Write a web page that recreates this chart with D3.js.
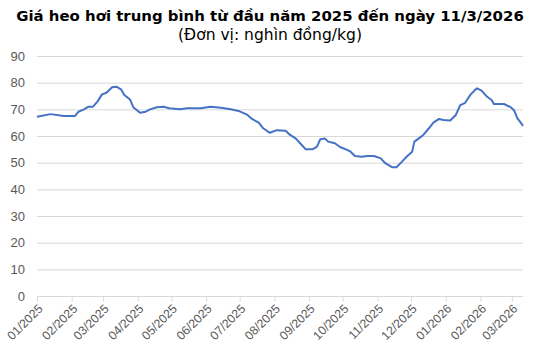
<!DOCTYPE html>
<html><head><meta charset="utf-8">
<script src="https://cdn.jsdelivr.net/npm/d3@7"></script>
<style>body{margin:0;background:#fff}svg{display:block}</style>
</head><body>
<script>
const dates = ["2025-01-01","2025-01-13","2025-01-25","2025-02-04","2025-02-07","2025-02-12","2025-02-16","2025-02-20","2025-02-24","2025-02-28",
"2025-03-04","2025-03-09","2025-03-13","2025-03-17","2025-03-20","2025-03-25","2025-03-28","2025-04-03","2025-04-08","2025-04-12",
"2025-04-18","2025-04-24","2025-04-29","2025-05-09","2025-05-15","2025-05-27","2025-06-05","2025-06-14","2025-06-23","2025-06-30",
"2025-07-08","2025-07-12","2025-07-18","2025-07-22","2025-07-28","2025-08-03","2025-08-11","2025-08-15","2025-08-20","2025-08-24",
"2025-08-29","2025-09-04","2025-09-08","2025-09-11","2025-09-15","2025-09-18","2025-09-24","2025-09-29","2025-10-05","2025-10-08",
"2025-10-12","2025-10-18","2025-10-23","2025-10-29","2025-11-04","2025-11-08","2025-11-14","2025-11-18","2025-11-23","2025-11-27",
"2025-12-02","2025-12-04","2025-12-08","2025-12-12","2025-12-17","2025-12-21","2025-12-26","2025-12-30","2026-01-05","2026-01-10",
"2026-01-14","2026-01-18","2026-01-23","2026-01-27","2026-01-29","2026-02-02","2026-02-07","2026-02-11","2026-02-13","2026-02-22",
"2026-02-28","2026-03-03","2026-03-06","2026-03-09","2026-03-11"];
const prices = [67.2,68.2,67.5,67.5,69.1,70.0,71.0,71.0,72.9,75.6,
76.2,78.3,78.5,77.5,75.4,73.7,70.8,68.7,69.1,70.0,
70.8,71.0,70.4,70.0,70.4,70.4,71.0,70.6,70.0,69.4,
67.9,66.4,65.0,62.9,61.2,62.2,62.0,60.4,59.1,57.3,
55.0,55.0,56.0,58.8,59.1,57.9,57.3,55.8,54.8,54.1,
52.5,52.2,52.5,52.5,51.6,49.8,48.3,48.3,50.4,52.2,
54.1,57.9,59.1,60.4,62.9,65.0,66.4,66.0,65.8,67.9,
71.6,72.3,75.4,77.2,77.9,77.0,74.7,73.5,72.0,72.0,
70.8,69.7,66.6,65.0,63.8];
const yTicks = [0,10,20,30,40,50,60,70,80,90];
const monthTicks = ["2025-01-01","2025-02-01","2025-03-01","2025-04-01","2025-05-01","2025-06-01","2025-07-01","2025-08-01","2025-09-01","2025-10-01","2025-11-01","2025-12-01","2026-01-01","2026-02-01","2026-03-01"];
const title = "Giá heo hơi trung bình từ đầu năm 2025 đến ngày 11/3/2026";
const subtitle = "(Đơn vị: nghìn đồng/kg)";

const W=540,H=360;
const parse = d3.utcParse("%Y-%m-%d");
const data = dates.map((d,i)=>({date:parse(d),v:prices[i]}));
const svg = d3.select("body").append("svg").attr("width",W).attr("height",H);
const x = d3.scaleUtc().domain([parse("2025-01-01"),parse("2026-03-11")]).range([37,523]);
const y = d3.scaleLinear().domain([0,90]).range([296,56]);

function fitText(sel, targetW){
  const w = sel.node().getComputedTextLength();
  const fs = +sel.attr("font-size");
  sel.attr("font-size", (fs*targetW/w).toFixed(2));
}
const t1 = svg.append("text").attr("x",270).attr("y",21).attr("text-anchor","middle")
  .attr("font-family","DejaVu Sans").attr("font-weight","bold").attr("font-size",14).attr("fill","#000").text(title);
fitText(t1, 508);
const t2 = svg.append("text").attr("x",270).attr("y",40).attr("text-anchor","middle")
  .attr("font-family","DejaVu Sans").attr("font-size",14).attr("fill","#000").text(subtitle);
fitText(t2, 184);

// gridlines
svg.append("g").selectAll("line").data(yTicks.filter(t=>t>0)).join("line")
  .attr("x1",37).attr("x2",523).attr("y1",d=>y(d)+0.5).attr("y2",d=>y(d)+0.5)
  .attr("stroke","#d9d9d9").attr("stroke-width",1);

// y axis labels
const ya = svg.append("g").attr("transform","translate(37,0)")
  .call(d3.axisLeft(y).tickValues(yTicks).tickSize(0).tickPadding(12));
ya.select(".domain").remove();
ya.selectAll("text").attr("font-family","Liberation Sans").attr("font-size",13).attr("fill","#595959");

// x axis
const xa = svg.append("g").attr("transform","translate(0,296.5)")
  .call(d3.axisBottom(x).tickValues(monthTicks.map(parse)).tickSize(5).tickFormat(d3.utcFormat("%m/%Y")));
xa.select(".domain").attr("d","M37,0H523").attr("stroke","#d9d9d9");
xa.selectAll(".tick line").attr("stroke","#d9d9d9");
xa.selectAll(".tick text").attr("font-family","Liberation Sans").attr("font-size",12.2).attr("fill","#595959")
  .attr("text-anchor","end").attr("dy",0).attr("y",0)
  .attr("transform","translate(6,13) rotate(-45)");

// line
svg.append("path").datum(data)
  .attr("d",d3.line().x(d=>x(d.date)).y(d=>y(d.v)))
  .attr("fill","none").attr("stroke","#4472c4").attr("stroke-width",2).attr("stroke-linejoin","round");
</script>
</body></html>
